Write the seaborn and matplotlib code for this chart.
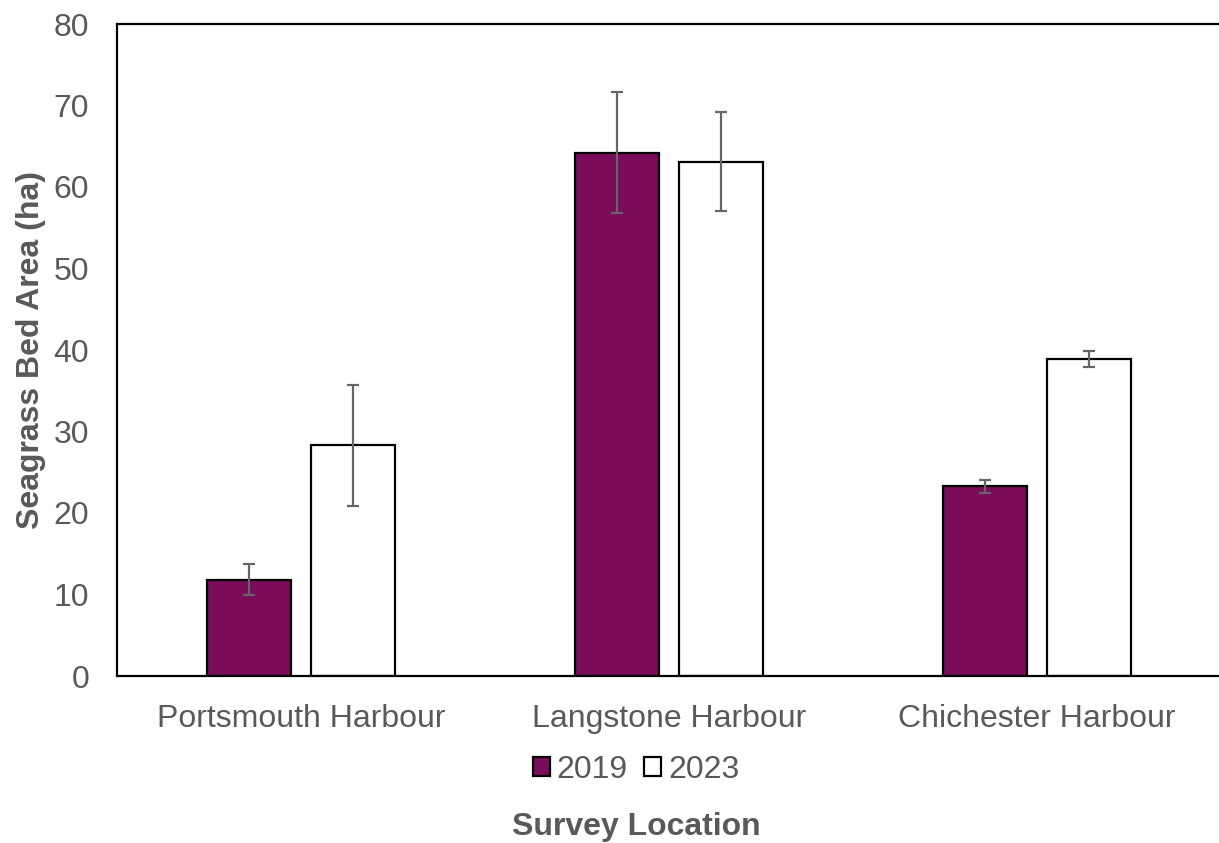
import matplotlib
matplotlib.use("Agg")
import matplotlib.pyplot as plt
import seaborn as sns
import pandas as pd

locations = ["Portsmouth Harbour", "Langstone Harbour", "Chichester Harbour"]
years = ["2019", "2023"]
area_2019 = [11.8, 64.2, 23.3]
area_2023 = [28.3, 63.1, 38.9]
err_2019 = [1.9, 7.4, 0.8]
err_2023 = [7.4, 6.1, 1.0]

df = pd.DataFrame({
    "Survey Location": locations * 2,
    "Year": [years[0]] * 3 + [years[1]] * 3,
    "Area": area_2019 + area_2023,
})
errors = {years[0]: err_2019, years[1]: err_2023}

sns.set_theme(style="white")
plt.rcParams["font.family"] = ["Liberation Sans", "DejaVu Sans"]
text_grey = "#595959"
fs = 23

fig = plt.figure(figsize=(12.19, 8.43), dpi=100)
ax = fig.add_axes([117 / 1219, 1 - 676 / 843, 1104 / 1219, 652 / 843])

sns.barplot(
    data=df, x="Survey Location", y="Area", hue="Year",
    order=locations, hue_order=years,
    palette={"2019": "#7B0C5B", "2023": "#FFFFFF"}, saturation=1,
    edgecolor="black", linewidth=1.6,
    width=0.565, gap=0.2, errorbar=None, legend=True, ax=ax,
)

for container, yr in zip(ax.containers, years):
    xs = [p.get_x() + p.get_width() / 2 for p in container.patches]
    hs = [p.get_height() for p in container.patches]
    ax.errorbar(xs, hs, yerr=errors[yr], fmt="none", ecolor="#666666",
                elinewidth=1.6, capsize=4.5, capthick=1.6, zorder=5)

ax.set_xlim(-0.5, 2.5)
ax.set_ylim(0, 80)
ax.set_yticks(range(0, 81, 10))
ax.tick_params(axis="both", length=0, labelsize=fs, colors=text_grey)
ax.tick_params(axis="y", pad=20)
ax.tick_params(axis="x", pad=20)

for side in ["left", "bottom", "top"]:
    ax.spines[side].set_color("black")
    ax.spines[side].set_linewidth(1.6)
ax.spines["right"].set_visible(False)

ax.set_ylabel("Seagrass Bed Area (ha)", fontsize=fs, fontweight="bold",
              color=text_grey, va="center")
ax.yaxis.set_label_coords(31 / 1219, 1 - 350 / 843, transform=fig.transFigure)
ax.set_xlabel("Survey Location", fontsize=fs, fontweight="bold",
              color=text_grey, va="center")
ax.xaxis.set_label_coords(636 / 1219, 1 - 827 / 843, transform=fig.transFigure)

handles, labels = ax.get_legend_handles_labels()
ax.legend(handles, labels, loc="center", bbox_to_anchor=(636 / 1219, 1 - 770 / 843),
          bbox_transform=fig.transFigure, ncol=2, frameon=False,
          fontsize=fs, labelcolor=text_grey, handlelength=0.55, handleheight=0.55,
          handletextpad=0.2, columnspacing=0.5)

fig.savefig("out.png", dpi=100)
